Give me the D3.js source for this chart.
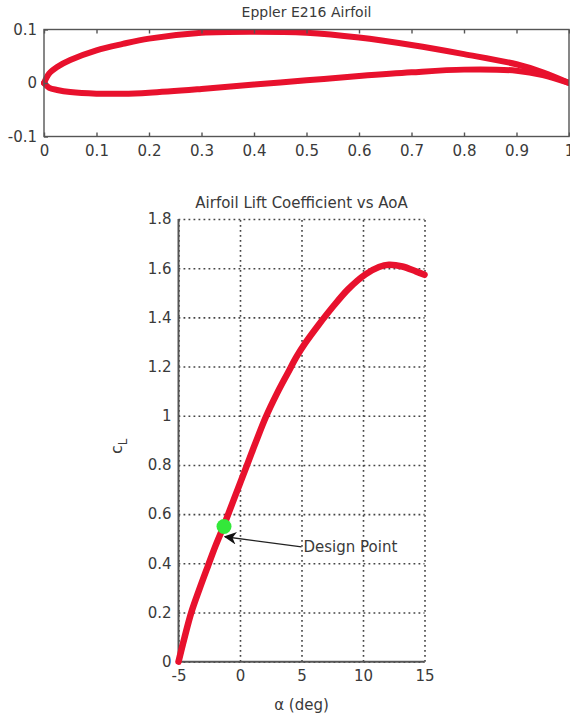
<!DOCTYPE html>
<html><head><meta charset="utf-8">
<script src="https://cdn.jsdelivr.net/npm/d3@7"></script>
<style>
body{margin:0;background:#fff}
text{font-family:"DejaVu Sans",sans-serif;fill:#3a3a3a}
</style>
</head><body>
<svg id="c" width="570" height="717"></svg>
<script>
// ---- data ----
const airfoilX     = [0, 0.01, 0.025, 0.05, 0.1, 0.15, 0.2, 0.3, 0.4, 0.5, 0.6, 0.7, 0.8, 0.9, 0.95, 1.0];
const airfoilUpper = [0, 0.018, 0.03, 0.043, 0.061, 0.073, 0.083, 0.094, 0.096, 0.094, 0.085, 0.071, 0.054, 0.035, 0.02, 0.0];
const airfoilLower = [0, -0.009, -0.013, -0.017, -0.02, -0.02, -0.018, -0.011, -0.003, 0.005, 0.013, 0.02, 0.025, 0.023, 0.015, 0.0];
const alphaDeg  = [-5, -4.5, -3.96, -3.3, -2.6, -2.0, -1.3, -0.5, 0.5, 1.3, 2.1, 3.0, 3.9, 4.6, 5.3, 6.4, 7.5, 8.8, 10.2, 11.3, 12.1, 13.2, 14.3, 15];
const liftCoef  = [0, 0.1, 0.2, 0.295, 0.39, 0.47, 0.555, 0.66, 0.79, 0.895, 0.995, 1.09, 1.175, 1.24, 1.295, 1.37, 1.44, 1.515, 1.575, 1.605, 1.614, 1.607, 1.587, 1.573];
const designPoint = {alpha: -1.3, cl: 0.55, label: "Design Point"};
const arrowHead = {alpha: -1.22, cl: 0.508};
const arrowTail = {alpha: 5.0, cl: 0.467};
const topXTicks = [0, 0.1, 0.2, 0.3, 0.4, 0.5, 0.6, 0.7, 0.8, 0.9, 1];
const topYTicks = [-0.1, 0, 0.1];
const alphaTicks = [-5, 0, 5, 10, 15];
const clTicks = [0, 0.2, 0.4, 0.6, 0.8, 1, 1.2, 1.4, 1.6, 1.8];
const topTitle = "Eppler E216 Airfoil";
const botTitle = "Airfoil Lift Coefficient vs AoA";

const RED = "#e8112d", AX = "#555";
const svg = d3.select("#c");
const fmt = d => String(+d.toFixed(1));

// ---- top plot ----
const tp = {l: 44, r: 569, t: 29.5, b: 136.5};
const tx = d3.scaleLinear().domain([0, 1]).range([tp.l, tp.r]);
const ty = d3.scaleLinear().domain([-0.1, 0.1]).range([tp.b, tp.t]);
const gt = svg.append("g");
svg.append("clipPath").attr("id", "clipTop").append("rect")
  .attr("x", tp.l - 3).attr("y", tp.t).attr("width", tp.r - tp.l + 3).attr("height", tp.b - tp.t);

const lineTop = d3.line().x(d => tx(d[0])).y(d => ty(d[1])).curve(d3.curveCatmullRom.alpha(0.5));
[airfoilUpper, airfoilLower].forEach(arr => {
  gt.append("path").datum(airfoilX.map((x, i) => [x, arr[i]]))
    .attr("d", lineTop).attr("fill", "none").attr("stroke", RED)
    .attr("stroke-width", 6).attr("stroke-linecap", "round").attr("clip-path", "url(#clipTop)");
});
gt.append("rect").attr("x", tp.l).attr("y", tp.t).attr("width", tp.r - tp.l).attr("height", tp.b - tp.t)
  .attr("fill", "none").attr("stroke", AX).attr("stroke-width", 1.4);

const axTB = gt.append("g").attr("transform", `translate(0,${tp.b})`)
  .call(d3.axisBottom(tx).tickValues(topXTicks).tickFormat(fmt).tickSize(-4).tickPadding(9));
const axTT = gt.append("g").attr("transform", `translate(0,${tp.t})`)
  .call(d3.axisTop(tx).tickValues(topXTicks).tickFormat("").tickSize(-4));
const axTL = gt.append("g").attr("transform", `translate(${tp.l},0)`)
  .call(d3.axisLeft(ty).tickValues(topYTicks).tickFormat(fmt).tickSize(-4).tickPadding(7));
[axTB, axTT, axTL].forEach(a => {
  a.select(".domain").remove();
  a.selectAll("line").attr("stroke", AX).attr("stroke-width", 1.4);
  a.selectAll("text").attr("font-size", 15).attr("fill", "#3a3a3a");
});
gt.append("text").attr("x", (tp.l + tp.r) / 2).attr("y", 17).attr("text-anchor", "middle")
  .attr("font-size", 14).text(topTitle);

// ---- bottom plot ----
const bp = {l: 178.5, r: 424.5, t: 219, b: 661.7};
const bx = d3.scaleLinear().domain([-5, 15]).range([bp.l, bp.r]);
const by = d3.scaleLinear().domain([0, 1.8]).range([bp.b, bp.t]);
const gb = svg.append("g");

// grid
const gx = gb.append("g").attr("transform", `translate(0,${bp.b})`)
  .call(d3.axisBottom(bx).tickValues(alphaTicks).tickFormat(fmt).tickSize(-(bp.b - bp.t)).tickPadding(9));
const gy = gb.append("g").attr("transform", `translate(${bp.l},0)`)
  .call(d3.axisLeft(by).tickValues(clTicks).tickFormat(fmt).tickSize(-(bp.r - bp.l)).tickPadding(7));
[gx, gy].forEach(a => {
  a.select(".domain").remove();
  a.selectAll("line").attr("stroke", "#444").attr("stroke-width", 1.6).attr("stroke-dasharray", "1.8,3.2");
  a.selectAll("text").attr("font-size", 15).attr("fill", "#3a3a3a");
});
// solid left and bottom axes
gb.append("line").attr("x1", bp.l).attr("x2", bp.l).attr("y1", bp.t).attr("y2", bp.b).attr("stroke", AX).attr("stroke-width", 2);
gb.append("line").attr("x1", bp.l).attr("x2", bp.r).attr("y1", bp.b).attr("y2", bp.b).attr("stroke", AX).attr("stroke-width", 2);

const lineBot = d3.line().x(d => bx(d[0])).y(d => by(d[1])).curve(d3.curveCatmullRom.alpha(0.5));
gb.append("path").datum(alphaDeg.map((a, i) => [a, liftCoef[i]]))
  .attr("d", lineBot).attr("fill", "none").attr("stroke", RED).attr("stroke-width", 6.5)
  .attr("stroke-linecap", "round").attr("stroke-linejoin", "round");

gb.append("circle").attr("cx", bx(designPoint.alpha)).attr("cy", by(designPoint.cl)).attr("r", 7.5)
  .attr("fill", "#33e83a");

// arrow
const defs = svg.append("defs");
defs.append("marker").attr("id", "ah").attr("viewBox", "0 0 10 10").attr("refX", 9).attr("refY", 5)
  .attr("markerWidth", 9).attr("markerHeight", 9).attr("orient", "auto")
  .append("path").attr("d", "M0,0 L10,5 L0,10 L3,5 Z").attr("fill", "#111");
gb.append("line").attr("x1", bx(arrowTail.alpha)).attr("y1", by(arrowTail.cl))
  .attr("x2", bx(arrowHead.alpha)).attr("y2", by(arrowHead.cl))
  .attr("stroke", "#222").attr("stroke-width", 1.4).attr("marker-end", "url(#ah)");
gb.append("text").attr("x", bx(arrowTail.alpha) + 2).attr("y", by(arrowTail.cl)).attr("dy", "0.35em")
  .attr("font-size", 15).text(designPoint.label);

gb.append("text").attr("x", (bp.l + bp.r) / 2).attr("y", 208).attr("text-anchor", "middle")
  .attr("font-size", 15).text(botTitle);
gb.append("text").attr("x", (bp.l + bp.r) / 2).attr("y", 710).attr("text-anchor", "middle")
  .attr("font-size", 15).text("α (deg)");
const yl = gb.append("text").attr("transform", `translate(122,${(bp.t + bp.b) / 2 + 6}) rotate(-90)`)
  .attr("text-anchor", "middle").attr("font-size", 16);
yl.append("tspan").text("c");
yl.append("tspan").attr("font-size", 12).attr("dy", 5).text("L");
</script>
</body></html>
